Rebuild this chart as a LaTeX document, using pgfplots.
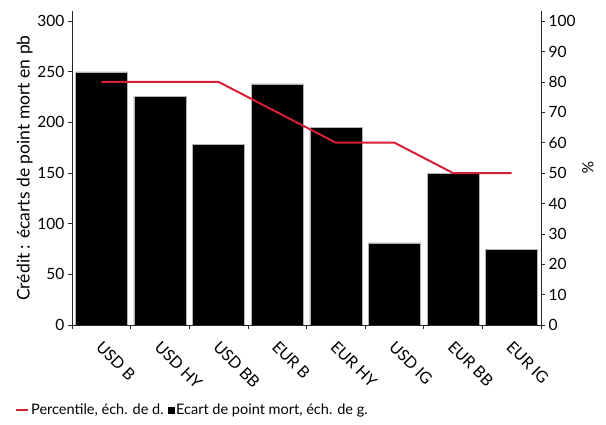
\documentclass[border=0pt]{standalone}
\usepackage{pgfplots}
\pgfplotsset{compat=1.18}
\usepackage{fontspec}
\setmainfont{Lato}
\definecolor{myred}{RGB}{214,32,56}
\pgfplotstableread{
x val
0 250
1 226
2 178
3 238
4 195
5 81
6 150
7 75
}\bars
\pgfplotstableread{
x val
0 80
1 80
2 80
3 70
4 60
5 60
6 50
7 50
}\pct
\begin{document}
\begin{tikzpicture}[x=1pt,y=1pt]
\path (-72,-100) rectangle (534,325);
\begin{axis}[
  at={(0,0)}, anchor=south west,
  scale only axis, width=469pt, height=314pt,
  xmin=-0.5, xmax=7.5, ymin=0, ymax=310,
  axis x line*=bottom, axis y line*=left,
  axis line style={line width=0.8pt, draw=black!85},
  xtick={0,...,7},
  xticklabels={USD B, USD HY, USD BB, EUR B, EUR HY, USD IG, EUR BB, EUR IG},
  major x tick style={draw=none},
  minor xtick={-0.5,0.5,...,7.5},
  minor tick length=4pt,
  tick align=outside,
  major tick length=4pt,
  ytick={0,50,...,300},
  x tick label style={xshift=2pt, yshift=-6pt, rotate=-45, anchor=north west, font=\fontsize{16}{18}\selectfont},
  y tick label style={font=\fontsize{15.5}{17}\selectfont},
  /pgf/number format/assume math mode=true,
  ylabel={Crédit : écarts de point mort en pb},
  ylabel style={font=\fontsize{17.5}{19}\selectfont, yshift=-2pt},
  tick style={draw=black!85, line width=0.6pt},
]
\addplot[ybar, bar width=52pt, fill=black, draw=gray!60, line width=0.4pt] table[x=x,y=val]{\bars};
\end{axis}
\begin{axis}[
  at={(0,0)}, anchor=south west,
  scale only axis, width=469pt, height=314pt,
  xmin=-0.5, xmax=7.5, ymin=0, ymax=103.33,
  axis x line=none, axis y line*=right,
  axis line style={line width=0.8pt, draw=black!85},
  ytick={0,10,...,100},
  tick align=outside,
  major tick length=4pt,
  tick style={draw=black!85, line width=0.6pt},
  y tick label style={font=\fontsize{15.5}{17}\selectfont},
  /pgf/number format/assume math mode=true,
  ylabel={\%},
  ylabel style={font=\fontsize{15.5}{17}\selectfont, rotate=180},
  legend columns=2,
  legend style={at={(-0.1215,-0.27)}, anchor=west, draw=none, fill=none,
    font=\fontsize{14.5}{16}\selectfont, inner sep=0pt,
    /tikz/every even column/.append style={column sep=2pt}},
  legend image code/.code={\draw[#1] (0pt,0pt) -- (12pt,0pt);},
]
\addplot[myred, line width=2pt] table[x=x,y=val]{\pct};
\addlegendentry{Percentile, éch. de d.}
\addlegendimage{legend image code/.code={\fill[black] (4pt,-3pt) rectangle (10pt,3pt);}}
\addlegendentry{Ecart de point mort, éch. de g.}
\end{axis}
\end{tikzpicture}
\end{document}
